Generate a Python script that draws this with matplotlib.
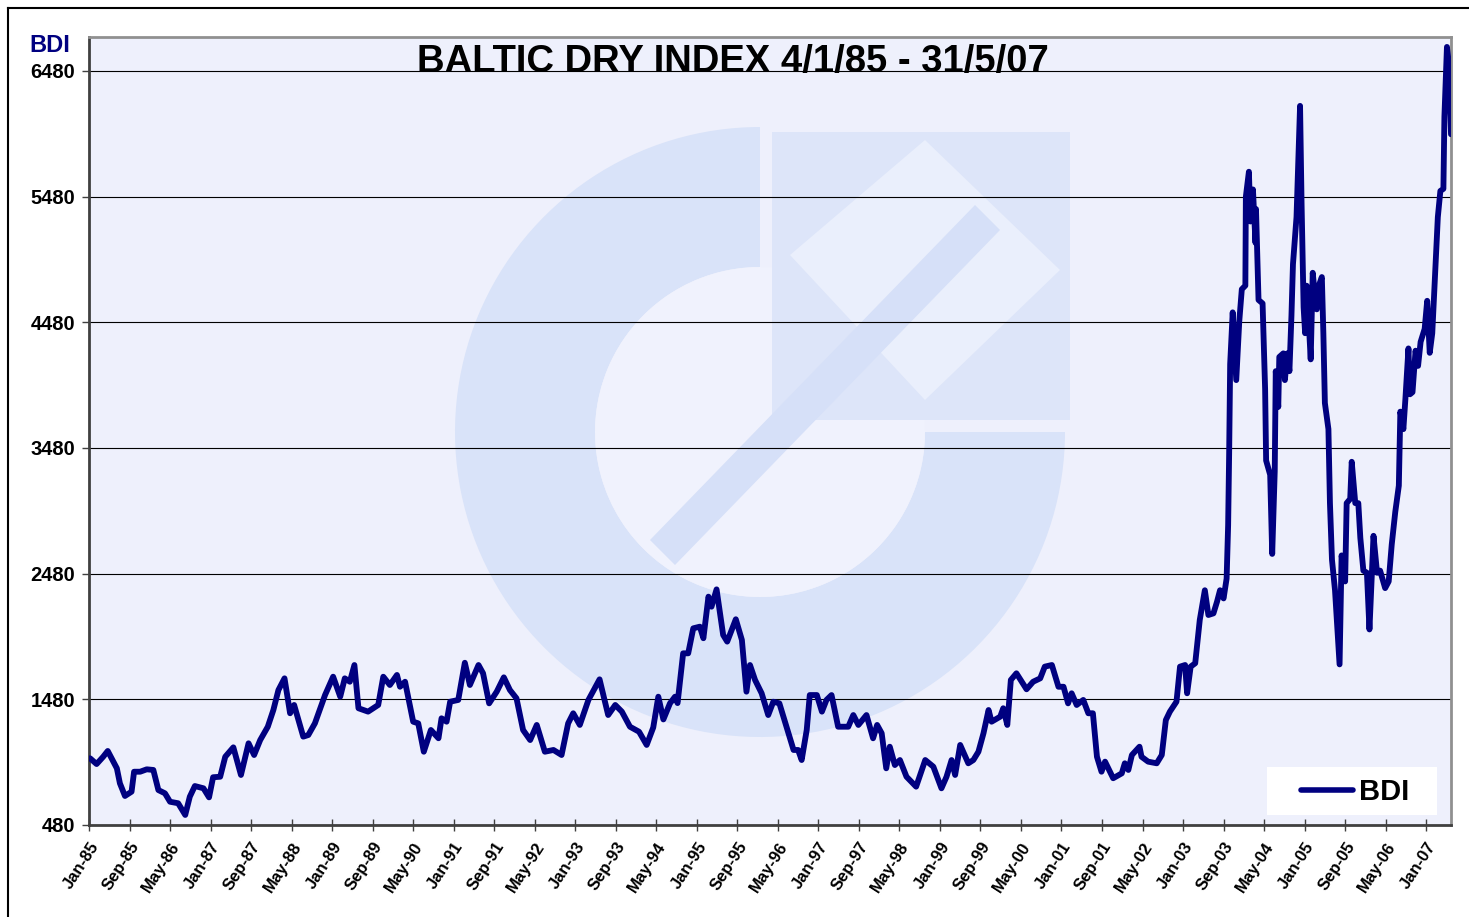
import matplotlib
matplotlib.use("Agg")
import matplotlib.pyplot as plt
from matplotlib.patches import Rectangle, Wedge, Polygon, Circle

plt.rcParams['font.family'] = ['Liberation Sans', 'DejaVu Sans']

# months since Jan-85 and BDI values
months = [0.2, 1.5, 2.8, 3.7, 4.3, 5.5, 6.1, 7.1, 8.4, 8.9, 10.1, 11.4, 12.7, 13.7, 15.0,
          16.0, 17.6, 19.0, 19.9, 20.9, 22.6, 23.7, 24.5, 25.9, 26.9, 28.5, 30.0, 31.5,
          32.6, 33.8, 35.3, 36.4, 37.4, 38.6, 39.7, 40.5, 42.3, 43.3, 44.6, 46.6, 48.2,
          49.6, 50.5, 51.5, 52.4, 53.2, 55.1, 57.1, 58.1, 59.4, 60.8, 61.4, 62.4, 64.0,
          65.0, 66.1, 67.5, 69.0, 69.6, 70.6, 71.3, 72.9, 74.2, 75.2, 76.9, 77.8, 79.0,
          80.5, 81.9, 83.1, 84.4, 85.7, 87.1, 88.4, 90.0, 91.7, 93.3, 94.6, 95.6, 96.9,
          98.6, 100.8, 102.5, 103.9, 105.2, 106.8, 108.6, 110.1, 111.4, 112.4, 113.4,
          114.7, 115.7, 116.2, 117.3, 118.3, 119.3, 120.6, 121.3, 122.3, 122.9, 123.9,
          125.2, 126.0, 127.7, 128.9, 129.8, 130.5, 131.5, 132.8, 134.1, 135.1, 136.3,
          137.7, 139.1, 140.0, 140.7, 141.7, 142.3, 143.7, 144.7, 145.6, 146.6, 147.9,
          149.9, 150.9, 151.9, 153.5, 154.8, 155.6, 156.5, 157.4, 158.1, 159.1, 160.1,
          161.4, 163.3, 165.1, 166.7, 168.3, 169.3, 170.3, 171.0, 172.0, 173.6, 174.6,
          175.6, 176.6, 177.6, 178.2, 179.9, 180.5, 181.3, 182.0, 183.1, 185.1, 186.4,
          187.8, 188.7, 190.1, 191.4, 192.4, 193.3, 194.0, 195.0, 196.3, 197.3, 198.2,
          199.0, 199.9, 200.6, 202.2, 203.9, 204.5, 205.2, 205.9, 207.4, 207.8, 209.1,
          210.8, 211.8, 212.6, 213.4, 214.7, 215.4, 216.4, 216.8, 217.5, 218.4, 219.3,
          220.3, 221.0, 222.0, 222.7, 223.3, 224.0, 224.6, 224.9, 225.1, 225.3, 225.8,
          226.5, 227.1, 227.6, 228.3, 228.4, 229.0, 229.3, 229.8, 230.3, 230.4, 230.9,
          231.7, 232.2, 232.4, 233.2, 233.6, 234.1, 234.3, 234.8, 235.0, 235.8, 236.1,
          236.6, 237.0, 237.4, 237.7, 238.4, 239.1, 239.4, 239.8, 240.1, 240.4, 240.7,
          241.2, 241.6, 242.1, 242.4, 242.8, 243.4, 243.7, 244.0, 244.7, 245.0, 245.4,
          246.0, 246.9, 247.3, 248.0, 248.3, 249.0, 249.3, 250.0, 250.6, 251.0, 251.6,
          252.3, 252.8, 253.6, 254.3, 254.9, 255.9, 256.6, 257.2, 257.9, 258.6, 258.9,
          259.5, 259.9, 260.5, 260.8, 261.3, 261.9, 262.4, 262.9, 263.7, 264.2, 264.7,
          265.2, 265.8, 266.3, 266.8, 267.4, 267.6, 268.1, 268.5, 268.9]
bdi = [1011, 965, 1023, 1069, 1023, 931, 812, 711, 745, 904, 904, 923, 918, 758, 732,
       665, 653, 560, 705, 790, 772, 700, 860, 864, 1023, 1098, 878, 1130,
       1037, 1156, 1262, 1395, 1554, 1647, 1369, 1435, 1183, 1196, 1289, 1514, 1660,
       1501, 1647, 1620, 1753, 1409, 1382, 1435, 1660, 1594, 1674, 1580, 1620, 1302,
       1289, 1063, 1236, 1170, 1329, 1302, 1461, 1475, 1771, 1594, 1753, 1687, 1448,
       1541, 1655, 1554, 1488, 1236, 1156, 1276, 1063, 1077, 1037, 1289, 1369, 1276,
       1475, 1639, 1355, 1435, 1382, 1262, 1222, 1117, 1256, 1501, 1320,
       1448, 1501, 1450, 1846, 1846, 2045, 2058, 1966, 2297, 2217, 2355,
       1992, 1939, 2117, 1952, 1541, 1753, 1634, 1528, 1355, 1461, 1448,
       1262, 1077, 1077, 997, 1236, 1514, 1514, 1382, 1475, 1514, 1262,
       1262, 1355, 1276, 1355, 1170, 1276, 1210, 931, 1103, 957, 997,
       864, 785, 997, 944, 772, 864, 997, 878, 1117, 971, 997,
       1063, 1210, 1395, 1302, 1342, 1409, 1276, 1634, 1687, 1560, 1620,
       1647, 1740, 1753, 1580, 1580, 1448, 1528, 1435, 1475, 1369, 1369,
       1023, 904, 984, 852, 891, 971, 918, 1037, 1103, 1023, 984,
       971, 1037, 1315, 1382, 1461, 1740, 1753, 1528, 1740, 1767, 2112,
       2348, 2151, 2164, 2256, 2348, 2283, 2441, 2866, 3437, 4148, 4559,
       4020, 4489, 4743, 4772, 5480, 5678, 5282, 5537, 5112, 5381, 4658,
       4630, 3949, 3380, 3266, 2637, 3294, 4091, 3807, 4204, 4233, 4020,
       4233, 4091, 4531, 4942, 5317, 6202, 5422, 4600, 4393, 4771, 4566,
       4185, 4874, 4668, 4583, 4771, 4840, 4393, 3838, 3630, 3041, 2591,
       2348, 1758, 2625, 2418, 3041, 3075, 3370, 3041, 3041, 2764, 2504,
       2487, 2036, 2781, 2487, 2504, 2365, 2418, 2712, 2972, 3180, 3769,
       3630, 3872, 4272, 3907, 3924, 4254, 4133, 4324, 4428, 4651, 4237,
       4393, 4891, 5317, 5525, 5542, 6116, 6671, 6532, 5976]

tick_months = list(range(0, 265, 8))
tick_labels = ['Jan-85', 'Sep-85', 'May-86', 'Jan-87', 'Sep-87', 'May-88', 'Jan-89',
               'Sep-89', 'May-90', 'Jan-91', 'Sep-91', 'May-92', 'Jan-93', 'Sep-93',
               'May-94', 'Jan-95', 'Sep-95', 'May-96', 'Jan-97', 'Sep-97', 'May-98',
               'Jan-99', 'Sep-99', 'May-00', 'Jan-01', 'Sep-01', 'May-02', 'Jan-03',
               'Sep-03', 'May-04', 'Jan-05', 'Sep-05', 'May-06', 'Jan-07']
y_ticks = [480, 1480, 2480, 3480, 4480, 5480, 6480]

W, H = 1469, 917
fig = plt.figure(figsize=(W / 100, H / 100), dpi=100)

# background layer in pixel coordinates (plot area + faint logo watermark)
bg = fig.add_axes([0, 0, 1, 1])
bg.set_xlim(0, W)
bg.set_ylim(H, 0)
bg.axis('off')
bg.add_patch(Rectangle((89, 37), 1362, 788, facecolor='#eef0fc', edgecolor='none'))
bg.add_patch(Wedge((760, 432), 305, 0, 270, width=140, facecolor='#d9e3f9', edgecolor='none'))
bg.add_patch(Circle((760, 432), 165, facecolor='#f0f2fd', edgecolor='none'))
bg.add_patch(Rectangle((772, 132), 298, 288, facecolor='#dde5f9', edgecolor='none'))
bg.add_patch(Polygon([(790, 255), (925, 140), (1060, 270), (925, 400)],
                     facecolor='#eaeffc', edgecolor='none'))
bg.add_patch(Polygon([(650, 540), (975, 205), (1000, 230), (675, 565)],
                     facecolor='#d6e0f8', edgecolor='none'))
bg.plot([8, W], [8, 8], color='black', lw=1.5)
bg.plot([8, 8], [8, H], color='black', lw=1.5)
# white legend box
bg.add_patch(Rectangle((1267, 767), 170, 48, facecolor='white', edgecolor='none'))

ax = fig.add_axes([89 / W, 1 - 825 / H, 1362 / W, 788 / H])
ax.set_facecolor('none')
ax.plot(months, bdi, color='#000080', lw=4.2, solid_joinstyle='round',
        solid_capstyle='round', label='BDI', zorder=3)

ax.set_xlim(0, 268.9)
ax.set_ylim(480, 6750)
ax.set_yticks(y_ticks)
ax.set_yticklabels([str(v) for v in y_ticks], fontsize=14.5, fontweight='bold')
ax.set_xticks(tick_months)
ax.set_xticklabels(tick_labels, fontsize=12, fontweight='bold', rotation=57,
                   ha='right', rotation_mode='anchor')
ax.tick_params(axis='y', direction='out', length=5, width=1, color='#404040', pad=5)
ax.tick_params(axis='x', direction='inout', length=9, width=1, color='#404040', pad=6)
ax.grid(axis='y', color='black', lw=0.8, zorder=1)
ax.set_axisbelow(True)

for side in ['left', 'bottom']:
    ax.spines[side].set_color('#404040')
    ax.spines[side].set_linewidth(2)
for side in ['top', 'right']:
    ax.spines[side].set_color('#909090')
    ax.spines[side].set_linewidth(2)

leg = ax.legend(loc='center', bbox_to_anchor=(0.9295, 0.0420), frameon=False,
                handlelength=1.8, handletextpad=0.2, borderpad=0, borderaxespad=0,
                prop={'weight': 'bold', 'size': 21})
leg.get_lines()[0].set_linewidth(4)

fig.text(733 / W, 1 - 62 / H, 'BALTIC DRY INDEX 4/1/85 - 31/5/07', ha='center', va='center',
         fontsize=27.5, fontweight='bold', color='black')
fig.text(50 / W, 1 - 45 / H, 'BDI', ha='center', va='center', fontsize=17,
         fontweight='bold', color='#000080')

fig.savefig('out.png', dpi=100)
